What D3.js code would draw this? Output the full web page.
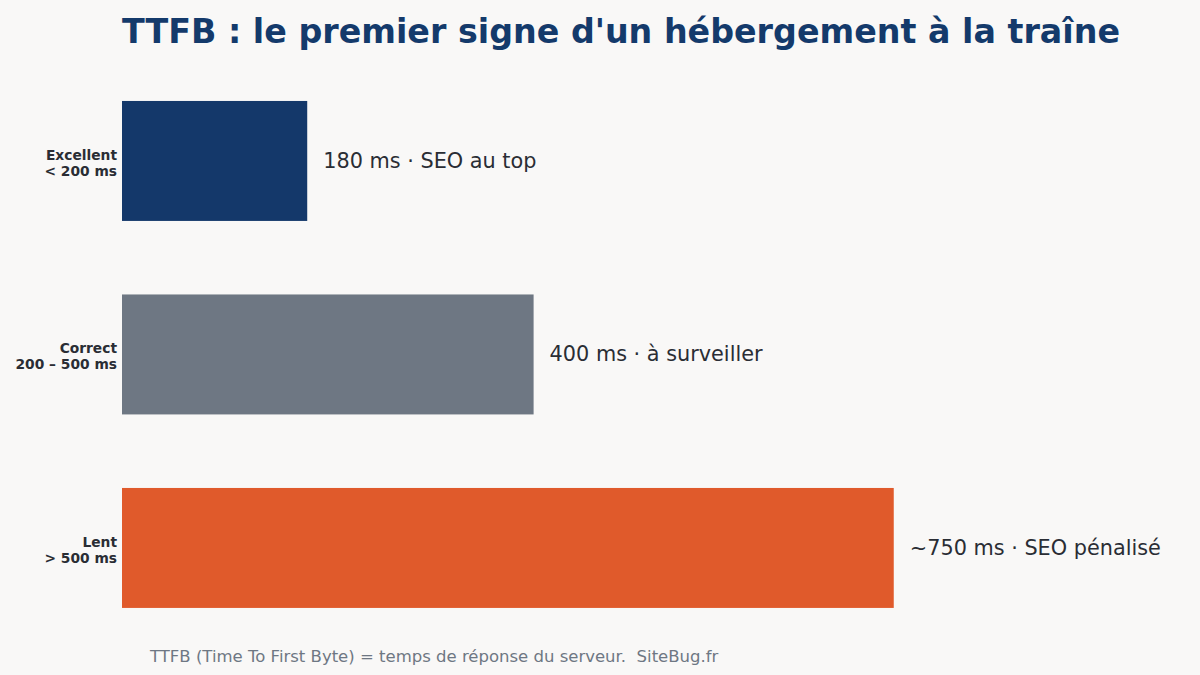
<!DOCTYPE html>
<html>
<head>
<meta charset="utf-8">
<script src="https://cdn.jsdelivr.net/npm/d3@7"></script>
<style>
  body { margin: 0; background: #f9f8f7; }
  svg { display: block; }
</style>
</head>
<body>
<svg></svg>
<script>
// data
var categories = ['Excellent', 'Correct', 'Lent'];
var ranges = ['< 200 ms', '200 – 500 ms', '> 500 ms'];
var values = [180, 400, 750];
var valueLabels = ['180 ms · SEO au top', '400 ms · à surveiller', '~750 ms · SEO pénalisé'];
var colors = ['#14386a', '#6e7783', '#e05a2b'];

const width = 1200, height = 675;

const svg = d3.select('svg')
  .attr('width', width)
  .attr('height', height)

svg.append('rect')
  .attr('width', width).attr('height', height)
  .attr('fill', '#f9f8f7')

const x = d3.scaleLinear().domain([0, 1000]).range([122, 1151])
const y = d3.scaleBand()
  .domain(categories)
  .range([64.2, 644.7])
  .paddingInner(0.38)
  .paddingOuter(0.19)

var rows = categories.map(function(c, i) {
  return { cat: c, range: ranges[i], value: values[i], label: valueLabels[i], color: colors[i] };
});

svg.append('text')
  .attr('x', 122)
  .attr('y', 43)
  .attr('font-family', 'DejaVu Sans')
  .attr('font-weight', 'bold')
  .attr('font-size', 33.3)
  .attr('fill', '#143a6b')
  .text("TTFB : le premier signe d'un hébergement à la traîne")

svg.append('g')
  .selectAll('rect')
  .data(rows)
  .enter().append('rect')
    .attr('x', x(0))
    .attr('y', d => y(d.cat))
    .attr('width', d => x(d.value) - x(0))
    .attr('height', y.bandwidth())
    .attr('fill', d => d.color)

// y labels, two lines
const ylab = svg.append('g')
  .selectAll('text')
  .data(rows)
  .enter().append('text')
    .attr('text-anchor', 'end')
    .attr('font-family', 'DejaVu Sans')
    .attr('font-weight', 'bold')
    .attr('font-size', 13.8)
    .attr('fill', '#2a2d34')
ylab.append('tspan')
  .attr('x', 117)
  .attr('y', d => y(d.cat) + y.bandwidth() / 2 - 1)
  .text(d => d.cat)
ylab.append('tspan')
  .attr('x', 117)
  .attr('y', d => y(d.cat) + y.bandwidth() / 2 + 15)
  .text(d => d.range)

svg.append('g')
  .selectAll('text')
  .data(rows)
  .enter().append('text')
    .attr('x', d => x(d.value) + 16)
    .attr('y', d => y(d.cat) + y.bandwidth() / 2 + 7)
    .attr('font-family', 'DejaVu Sans')
    .attr('font-size', 20.8)
    .attr('fill', '#2a2d34')
    .text(d => d.label)

svg.append('text')
  .attr('x', 150)
  .attr('y', 662)
  .attr('font-family', 'DejaVu Sans')
  .attr('font-size', 16.5)
  .attr('fill', '#6e7783')
  .style('white-space', 'pre')
  .text('TTFB (Time To First Byte) = temps de réponse du serveur.  SiteBug.fr')
</script>
</body>
</html>
